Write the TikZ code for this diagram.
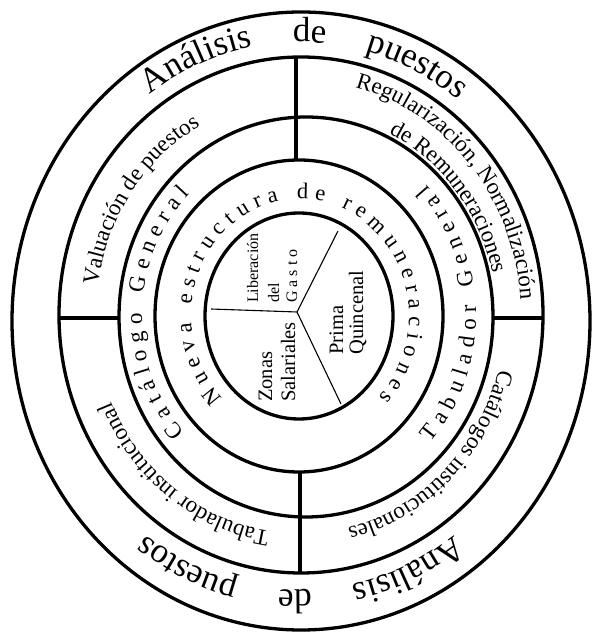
\documentclass[tikz,border=0pt]{standalone}
\usepackage{fontspec}
\setmainfont{Liberation Serif}
\usetikzlibrary{decorations.text,calc}
\newcommand\fontBig{\fontsize{35}{35}\selectfont}
\newcommand\fontMid{\fontsize{23}{23}\selectfont}
\newcommand\fontRing{\fontsize{23}{23}\selectfont}
\newcommand\fontNueva{\fontsize{22.5}{22.5}\selectfont}
\newcommand\fontInner{\fontsize{20.5}{20.5}\selectfont}
\newcommand\fontSmall{\fontsize{16}{16}\selectfont}
\tikzset{
  ring/.style={draw, line width=3.3pt},
  divider/.style={line width=3.3pt},
  sector/.style={line width=1.1pt},
  innertxt/.style={rotate=90, anchor=base west, inner sep=0pt},
  arcwords/.style={decorate, decoration={text along path, text align=center, text={#1}}},
  arcspread/.style={decorate, decoration={text along path, text align=fit to path, text={#1}}},
  arcwide/.style={decorate, decoration={text along path, text align={fit to path stretching spaces}, text={#1}}}
}
\begin{document}
\begin{tikzpicture}[x=1pt,y=1pt]
\useasboundingbox (0,0) rectangle (596,632);
% centres
\coordinate (c1) at (301,311);
\coordinate (c2) at (301,317);
\coordinate (c3) at (306,315);
\coordinate (c4) at (299,316);
\coordinate (c5) at (299,316);
\coordinate (ct) at (300,316);
% rings
\draw[ring] (c1) ellipse [x radius=289pt, y radius=309pt];
\draw[ring] (c2) ellipse [x radius=242pt, y radius=258pt];
\draw[ring] (c3) ellipse [x radius=187pt, y radius=200pt];
\draw[ring] (c4) ellipse [x radius=144pt, y radius=156pt];
\draw[ring] (c5) ellipse [x radius=94pt, y radius=103pt];
% dividers
\coordinate (vt2) at (296,575); \coordinate (vt4) at (296,472);
\coordinate (vb4) at (300,160); \coordinate (vb2) at (300,59);
\coordinate (hl2) at (59,314);  \coordinate (hl3) at (120,314);
\coordinate (hr3) at (493,314); \coordinate (hr2) at (543,314);
\draw[divider] (vt2) -- (vt4);
\draw[divider] (vb4) -- (vb2);
\draw[divider] (hl2) -- (hl3);
\draw[divider] (hr3) -- (hr2);
% inner sectors
\coordinate (J) at (297,320);
\coordinate (sL) at (211,323);
\coordinate (sU) at (338,401);
\coordinate (sD) at (341,228);
\draw[sector] (sL) -- (J);
\draw[sector] (J) -- (sU);
\draw[sector] (J) -- (sD);
% inner texts
\node[innertxt, font=\fontSmall] (lib) at (258,329) {Liberación};
\node[innertxt, font=\fontSmall] (del) at (279,329) {del};
\node[innertxt, font=\fontSmall] (gas) at (297,329) {G\kern4pt a\kern4pt s\kern4pt t\kern4pt o};
\node[innertxt, font=\fontInner] (zon) at (272,230) {Zonas};
\node[innertxt, font=\fontInner] (sal) at (295,230) {Salariales};
\node[innertxt, font=\fontInner] (pri) at (343,277) {Prima};
\node[innertxt, font=\fontInner] (qui) at (363,277) {Quincenal};
% outer ring texts
\path[arcwide={|\fontBig|Análisis de puestos}] ($(ct)+(126:256pt and 274pt)$) arc[start angle=126, end angle=52, x radius=256pt, y radius=274pt];
\path[arcwide={|\fontBig|Análisis de puestos}] ($(ct)+(-53:256pt and 274pt)$) arc[start angle=-53, end angle=-127, x radius=256pt, y radius=274pt];
% second ring texts
\path[arcwords={|\fontMid|Valuación de puestos}] ($(ct)+(178:204pt and 218pt)$) arc[start angle=178, end angle=113, x radius=204pt, y radius=218pt];
\path[arcwords={|\fontMid|Regularización, Normalización}] ($(c2)+(84:220pt and 235pt)$) arc[start angle=84, end angle=-4, x radius=220pt, y radius=235pt];
\path[arcwords={|\fontMid|de Remuneraciones}] ($(c3)+(72:191pt and 204pt)$) arc[start angle=72, end angle=5, x radius=191pt, y radius=204pt];
\path[arcwords={|\fontMid|Catálogos institucionales}] ($(ct)+(-8:205pt and 218pt)$) arc[start angle=-8, end angle=-83, x radius=205pt, y radius=218pt];
\path[arcwords={|\fontMid|Tabulador institucional}] ($(ct)+(-91:205pt and 218pt)$) arc[start angle=-91, end angle=-164, x radius=205pt, y radius=218pt];
% third ring texts
\path[arcspread={|\fontRing|Catálogo General}] ($(ct)+(223:158pt and 170pt)$) arc[start angle=223, end angle=134, x radius=158pt, y radius=170pt];
\path[arcspread={|\fontRing|Tabulador General}] ($(ct)+(-42:176pt and 189pt)$) arc[start angle=-42, end angle=44, x radius=176pt, y radius=189pt];
% fourth ring text
\path[arcspread={|\fontNueva|Nueva estructura de remuneraciones}] ($(ct)+(225:109pt and 117pt)$) arc[start angle=225, end angle=-44, x radius=109pt, y radius=117pt];
\end{tikzpicture}
\end{document}
